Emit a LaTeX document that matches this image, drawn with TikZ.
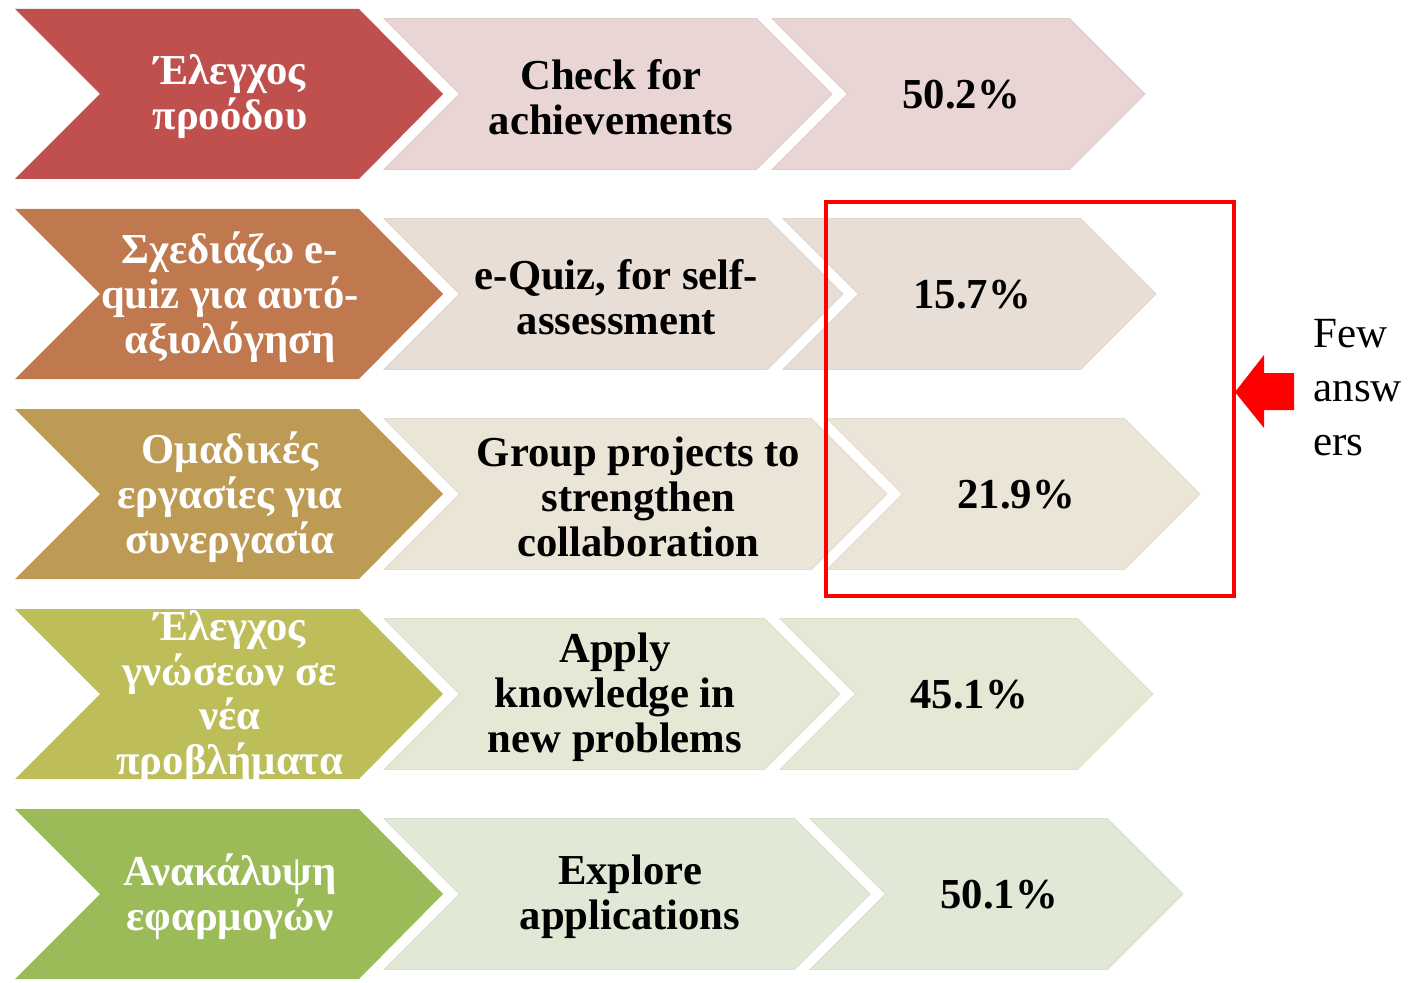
\documentclass[tikz,border=0pt]{standalone}
\usepackage{fontspec}
\setmainfont{Liberation Serif}
\definecolor{dkA}{HTML}{C0504D}
\definecolor{dkB}{HTML}{C0784F}
\definecolor{dkC}{HTML}{BE9B55}
\definecolor{dkD}{HTML}{BDBE5A}
\definecolor{dkE}{HTML}{9BBB59}
\definecolor{ltA}{HTML}{EAD5D5}
\definecolor{ltB}{HTML}{E9DED5}
\definecolor{ltC}{HTML}{EAE5D6}
\definecolor{ltD}{HTML}{E6E8D5}
\definecolor{ltE}{HTML}{E1E9D6}
\begin{document}
\begin{tikzpicture}[x=0.02cm,y=-0.02cm,
  txt/.style={font=\bfseries\fontsize{24.3}{25.6}\selectfont,align=center,inner sep=0pt},
  few/.style={font=\fontsize{24.5}{30.7}\selectfont,align=left,inner sep=0pt}]
\useasboundingbox (0,0) rectangle (1413,983);
\foreach \k/\tip/\dk/\lt/\gr/\en/\pc in {
  0/832/dkA/ltA/{Έλεγχος\\προόδου}/{Check for\\achievements}/50.2,
  1/843/dkB/ltB/{Σχεδιάζω e-\\quiz για αυτό-\\αξιολόγηση}/{e-Quiz, for self-\\assessment}/15.7,
  2/887/dkC/ltC/{Ομαδικές\\εργασίες για\\συνεργασία}/{Group projects to\\strengthen\\collaboration}/21.9,
  3/840/dkD/ltD/{Έλεγχος\\γνώσεων σε\\νέα\\προβλήματα}/{Apply\\knowledge in\\new problems}/45.1,
  4/870/dkE/ltE/{Ανακάλυψη\\εφαρμογών}/{Explore\\applications}/50.1}
{
  \pgfmathsetmacro\t{9+200*\k}
  \pgfmathsetmacro\ty{18.5+200*\k}
  \pgfmathsetmacro\yc{97+200*\k}
  \fill[\dk] (15,\t) -- ++(344,0) -- ++(84,85) -- ++(-84,85) -- ++(-344,0) -- ++(85,-85) -- cycle;
  \filldraw[fill=\lt,draw=\lt!96!black,line width=.5pt] (384,\ty) -- ({\tip-75.5},\ty) -- ++(75.5,75.5)
    -- ++(-75.5,75.5) -- (384,\ty+151) -- ++(75.5,-75.5) -- cycle;
  \filldraw[fill=\lt,draw=\lt!96!black,line width=.5pt] ({\tip-60},\ty) -- ({\tip+237.5},\ty) -- ++(75.5,75.5)
    -- ++(-75.5,75.5) -- ({\tip-60},\ty+151) -- ++(75.5,-75.5) -- cycle;
  \node[txt,white] (g\k) at (230,\yc) {\gr};
  \node[txt] (e\k) at ({(384+\tip)/2+3},\yc) {\en};
  \node[txt] (p\k) at ({\tip+129},\yc-2) {\pc\%};
}
% few answers
\draw[red,line width=2.3pt] (826,202) rectangle (1234,596);
\fill[red] (1235,392) -- (1264,355) -- (1264,373) -- (1294,373) -- (1294,410) -- (1264,410) -- (1264,428) -- cycle;
\node[few,anchor=west] (fewtxt) at (1313,388) {Few\\answ\\ers};
\end{tikzpicture}
\end{document}
